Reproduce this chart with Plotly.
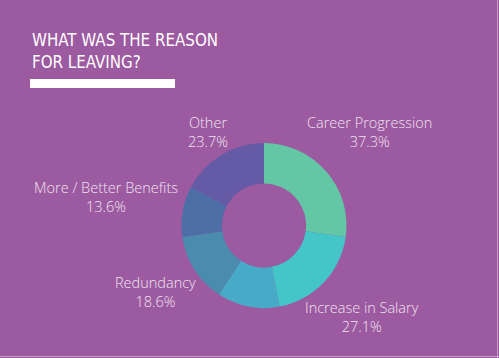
import plotly.graph_objects as go

# Data
reasons = ["Career Progression", "Increase in Salary", "Unlabelled", "Redundancy",
           "More / Better Benefits", "Other"]
values = [37.3, 27.1, 16.7, 18.6, 13.6, 23.7]
show_label = [True, True, False, True, True, True]
colors = ["#63c6a5", "#44c6c9", "#47abc8", "#4b8bad", "#4e6ea8", "#655aa6"]

# label anchor positions (pixels in a 499x358 canvas)
label_pos = [(369, 132), (362, 317), None, (155, 292), (106, 197), (208, 132)]

W, H = 499, 358
BG = "#9c5aa0"
TXT = "#f0e2f0"

fig = go.Figure()
cx, cy, r = 264, 225.5, 82.5
fig.add_trace(go.Pie(
    labels=reasons, values=values, sort=False, direction="clockwise", rotation=0,
    hole=0.51, textinfo="none", hoverinfo="label+value",
    marker=dict(colors=colors, line=dict(width=0)),
    domain=dict(x=[(cx - r) / W, (cx + r) / W], y=[1 - (cy + r) / H, 1 - (cy - r) / H]),
    showlegend=False,
))

annotations = []
for name, val, show, pos in zip(reasons, values, show_label, label_pos):
    if not show:
        continue
    annotations.append(dict(
        x=pos[0] / W, y=1 - pos[1] / H, xref="paper", yref="paper",
        text=f"{name}<br>{val}%", showarrow=False, align="center",
        xanchor="center", yanchor="middle",
        font=dict(family="Open Sans", size=14.5, color=TXT, weight=300),
    ))

annotations.append(dict(
    x=29.5 / W, y=1 - 28 / H, xref="paper", yref="paper",
    text="WHAT WAS THE REASON<br>FOR LEAVING?", showarrow=False, align="left",
    xanchor="left", yanchor="top",
    font=dict(family="DejaVu Sans Condensed", size=16.8, color="#ffffff", weight=300),
))

shapes = [
    dict(type="rect", xref="paper", yref="paper", x0=30 / W, x1=175 / W,
         y0=1 - 88 / H, y1=1 - 79 / H, fillcolor="#ffffff", line=dict(width=0)),
    dict(type="line", xref="paper", yref="paper", x0=(W - 1.5) / W, x1=(W - 1.5) / W,
         y0=0, y1=1, line=dict(color="#c89bcb", width=1)),
    dict(type="line", xref="paper", yref="paper", x0=0, x1=1,
         y0=1.5 / H, y1=1.5 / H, line=dict(color="#c89bcb", width=1)),
]

fig.update_layout(
    width=W, height=H, margin=dict(l=0, r=0, t=0, b=0),
    paper_bgcolor=BG, plot_bgcolor=BG,
    annotations=annotations, shapes=shapes,
)

fig.write_html(
    "out.html",
    config={"displayModeBar": False},
    post_script="document.body.style.margin='0';document.body.style.overflow='hidden';",
)
